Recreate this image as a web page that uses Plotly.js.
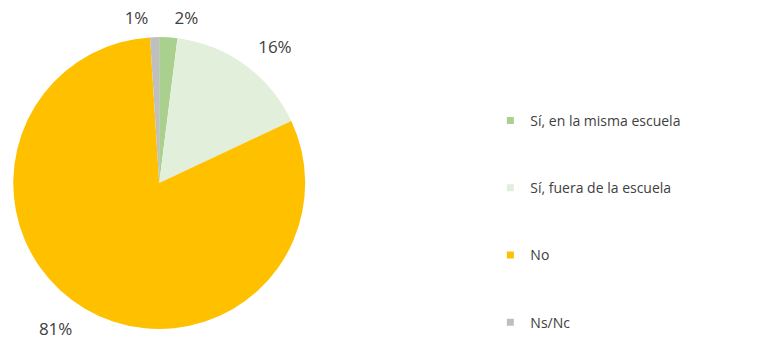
<!DOCTYPE html>
<html>
<head>
<meta charset="utf-8">
<script src="https://cdn.plot.ly/plotly-3.0.1.min.js"></script>
<style>html,body{margin:0;padding:0;background:#fff;}#chart{width:771px;height:350px;}</style>
</head>
<body>
<div id="chart"></div>
<script>
const categories = ["Sí, en la misma escuela", "Sí, fuera de la escuela", "No", "Ns/Nc"];
const values = [2, 16, 81, 1];
const colors = ["#a9d08e", "#e2efda", "#ffc000", "#bfbfbf"];

const fontFamily = "'Open Sans', 'Noto Sans', sans-serif";
const transparent = categories.map(() => "rgba(0,0,0,0)");

// visible pie (no text)
const pie = {
  type: "pie",
  labels: categories,
  values: values,
  sort: false,
  direction: "clockwise",
  rotation: 0,
  marker: { colors: colors, line: { width: 0 } },
  textinfo: "none",
  automargin: false,
  showlegend: false,
  hoverinfo: "none",
  domain: { x: [0.017, 0.396], y: [0.06, 0.894] }
};

function labelPie(show, domain) {
  return {
    type: "pie",
    labels: categories,
    values: values,
    sort: false,
    direction: "clockwise",
    rotation: 0,
    marker: { colors: transparent, line: { width: 0 } },
    textinfo: "percent",
    textposition: values.map(show),
    outsidetextfont: { family: fontFamily, size: 17, color: "#404040" },
    automargin: false,
    showlegend: false,
    hoverinfo: "none",
    domain: domain
  };
}

// small slices: labels close to the top of the pie
const smallLabels = labelPie(v => (v < 5 ? "outside" : "none"),
  { x: [0.0065, 0.406], y: [0.037, 0.917] });
// large slices: labels further out
const largeLabels = labelPie(v => (v >= 5 ? "outside" : "none"),
  { x: [0, 0.4125], y: [0.023, 0.931] });

const legendTraces = categories.map((c, i) => ({
  type: "scatter",
  mode: "markers",
  x: [null],
  y: [null],
  name: c,
  legendgroup: "g" + i,
  marker: { symbol: "square", size: 7, color: colors[i] },
  showlegend: true,
  hoverinfo: "none"
}));

const layout = {
  width: 771,
  height: 350,
  margin: { l: 0, r: 0, t: 0, b: 0 },
  paper_bgcolor: "#ffffff",
  plot_bgcolor: "#ffffff",
  xaxis: { visible: false },
  yaxis: { visible: false },
  showlegend: true,
  legend: {
    x: 0.636, xanchor: "left",
    y: 0.70, yanchor: "top",
    orientation: "v",
    itemwidth: 30,
    tracegroupgap: 46,
    font: { family: fontFamily, size: 14, color: "#404040" },
    bgcolor: "rgba(0,0,0,0)"
  }
};

Plotly.newPlot("chart", [pie, smallLabels, largeLabels].concat(legendTraces), layout, { displayModeBar: false, staticPlot: true });
</script>
</body>
</html>
